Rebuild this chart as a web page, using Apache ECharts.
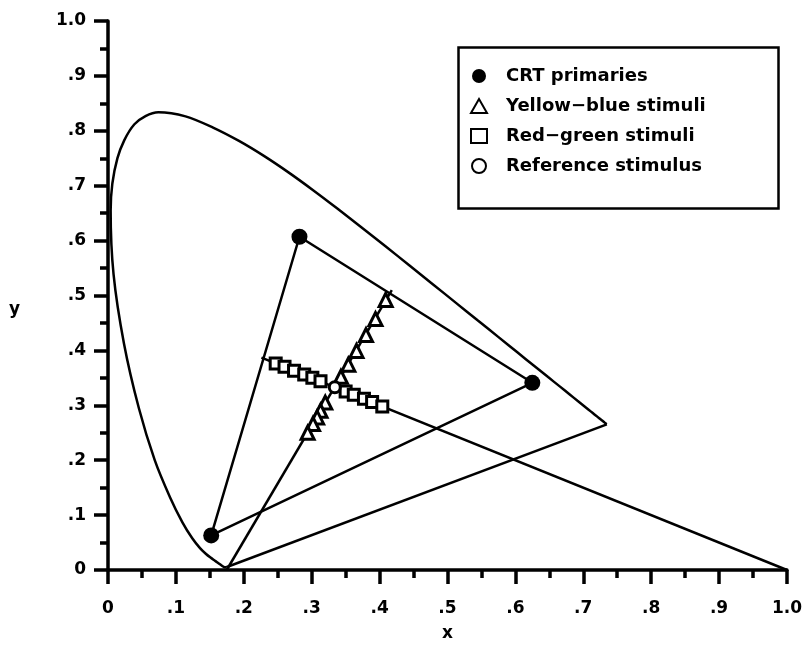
<!DOCTYPE html>
<html><head><meta charset="utf-8">
<script src="https://cdn.jsdelivr.net/npm/echarts@6/dist/echarts.min.js"></script>
<style>html,body{margin:0;padding:0;background:#fff}#c{width:805px;height:667px}</style>
</head><body><div id="c"></div>
<script>
// CIE 1931 spectrum locus (380-700 nm, 5 nm steps)
const locusX = [0.1741,0.1740,0.1738,0.1736,0.1733,0.1730,0.1726,0.1721,0.1714,0.1703,0.1689,0.1669,0.1644,0.1611,0.1566,0.1510,0.1440,0.1355,0.1241,0.1096,0.0913,0.0687,0.0454,0.0235,0.0082,0.0039,0.0139,0.0389,0.0743,0.1142,0.1547,0.1929,0.2296,0.2658,0.3016,0.3373,0.3731,0.4087,0.4441,0.4788,0.5125,0.5448,0.5752,0.6029,0.6270,0.6482,0.6658,0.6801,0.6915,0.7006,0.7079,0.7140,0.7190,0.7230,0.7260,0.7283,0.7300,0.7311,0.7320,0.7327,0.7334,0.7340,0.7344,0.7346,0.7347];
const locusY = [0.0050,0.0050,0.0049,0.0049,0.0048,0.0048,0.0048,0.0048,0.0051,0.0058,0.0069,0.0086,0.0109,0.0138,0.0177,0.0227,0.0297,0.0399,0.0578,0.0868,0.1327,0.2007,0.2950,0.4127,0.5384,0.6548,0.7502,0.8120,0.8338,0.8262,0.8059,0.7816,0.7543,0.7243,0.6923,0.6589,0.6245,0.5896,0.5547,0.5202,0.4866,0.4544,0.4242,0.3965,0.3725,0.3514,0.3340,0.3197,0.3083,0.2993,0.2920,0.2859,0.2809,0.2770,0.2740,0.2717,0.2700,0.2689,0.2680,0.2673,0.2666,0.2660,0.2656,0.2654,0.2653];
// purple line (700 nm back to 380 nm)
const purpleX = [0.7347, 0.1741];
const purpleY = [0.2653, 0.0050];
// CRT primaries R, G, B
const primX = [0.625, 0.282, 0.152];
const primY = [0.341, 0.607, 0.063];
// yellow-blue (tritan) stimuli
const ybX = [0.409, 0.394, 0.380, 0.366, 0.354, 0.343, 0.320, 0.313, 0.308, 0.302, 0.294];
const ybY = [0.492, 0.457, 0.428, 0.399, 0.374, 0.352, 0.305, 0.290, 0.278, 0.266, 0.250];
// red-green stimuli
const rgX = [0.247, 0.260, 0.274, 0.289, 0.301, 0.313, 0.350, 0.362, 0.377, 0.389, 0.404];
const rgY = [0.376, 0.370, 0.363, 0.356, 0.350, 0.344, 0.325, 0.319, 0.312, 0.306, 0.298];
// reference stimulus
const refX = [0.334];
const refY = [0.333];
// confusion lines (end points)
const ybLineX = [0.1748, 0.418];
const ybLineY = [0.0, 0.510];
const rgLineX = [0.226, 1.0];
const rgLineY = [0.387, 0.0];
const tickLabels = {0:'0',1:'.1',2:'.2',3:'.3',4:'.4',5:'.5',6:'.6',7:'.7',8:'.8',9:'.9',10:'1.0'};
const legendNames = ['CRT primaries','Yellow\u2212blue stimuli','Red\u2212green stimuli','Reference stimulus'];

const zip = (a, b) => a.map((v, i) => [v, b[i]]);
const font = 'DejaVu Sans, Verdana, sans-serif';
const lineSeries = (data, smooth) => ({type:'line', data, symbol:'none', silent:true, clip:false,
  smooth: smooth || false, lineStyle:{color:'#000', width:2.5}, z:2, animation:false});

const tri = zip(primX, primY); tri.push([primX[0], primY[0]]);

const axisCommon = {
  type:'value', min:0, max:1, interval:0.1,
  splitLine:{show:false},
  axisLine:{show:true, onZero:false, lineStyle:{color:'#000', width:3.5}},
  axisTick:{show:true, length:14, lineStyle:{color:'#000', width:3.5}},
  minorTick:{show:true, splitNumber:2, length:8, lineStyle:{color:'#000', width:3.5}},
  axisLabel:{color:'#000', fontFamily:font, fontWeight:'bold', fontSize:17,
    formatter: v => tickLabels[Math.round(v*10)]},
  nameTextStyle:{color:'#000', fontFamily:font, fontWeight:'bold', fontSize:17}
};

const chart = echarts.init(document.getElementById('c'), null, {renderer:'canvas'});
chart.setOption({
  animation:false,
  backgroundColor:'#fff',
  grid:{left:108, right:15, top:21, bottom:97},
  xAxis:Object.assign({}, axisCommon, {name:'x', nameLocation:'middle', nameGap:55,
    axisLabel:Object.assign({}, axisCommon.axisLabel, {margin:30})}),
  yAxis:Object.assign({}, axisCommon, {name:'y', nameLocation:'middle', nameGap:88, nameRotate:0,
    nameTextStyle:Object.assign({}, axisCommon.nameTextStyle, {verticalAlign:'top', padding:[6,0,0,0]}),
    axisLabel:Object.assign({}, axisCommon.axisLabel, {margin:22})}),
  graphic:[{type:'rect', left:456, top:45, shape:{width:320, height:161},
    style:{fill:'none', stroke:'#000', lineWidth:2.5}, z:10}],
  legend:{
    orient:'vertical', left:457, top:46,
    data:legendNames,
    padding:[21, 0, 0, 13], itemGap:12, itemWidth:16, itemHeight:14,
    textStyle:{color:'#000', fontFamily:font, fontWeight:'bold', fontSize:18, lineHeight:18, padding:[0,0,0,14]},
    selectedMode:false
  },
  series:[
    lineSeries(zip(locusX, locusY), 0.3),
    lineSeries(zip(purpleX, purpleY)),
    lineSeries(tri),
    lineSeries(zip(ybLineX, ybLineY)),
    lineSeries(zip(rgLineX, rgLineY)),
    {name:legendNames[1], type:'scatter', data:zip(ybX, ybY), symbol:'triangle', symbolSize:13,
      itemStyle:{color:'#fff', borderColor:'#000', borderWidth:3, opacity:1}, z:5},
    {name:legendNames[2], type:'scatter', data:zip(rgX, rgY), symbol:'rect', symbolSize:11,
      itemStyle:{color:'#fff', borderColor:'#000', borderWidth:3, opacity:1}, z:5},
    {name:legendNames[0], type:'scatter', data:zip(primX, primY), symbol:'circle', symbolSize:16,
      itemStyle:{color:'#000', opacity:1}, z:6},
    {name:legendNames[3], type:'scatter', data:zip(refX, refY), symbol:'circle', symbolSize:11,
      itemStyle:{color:'#fff', borderColor:'#000', borderWidth:3, opacity:1}, z:7}
  ]
});
</script></body></html>
